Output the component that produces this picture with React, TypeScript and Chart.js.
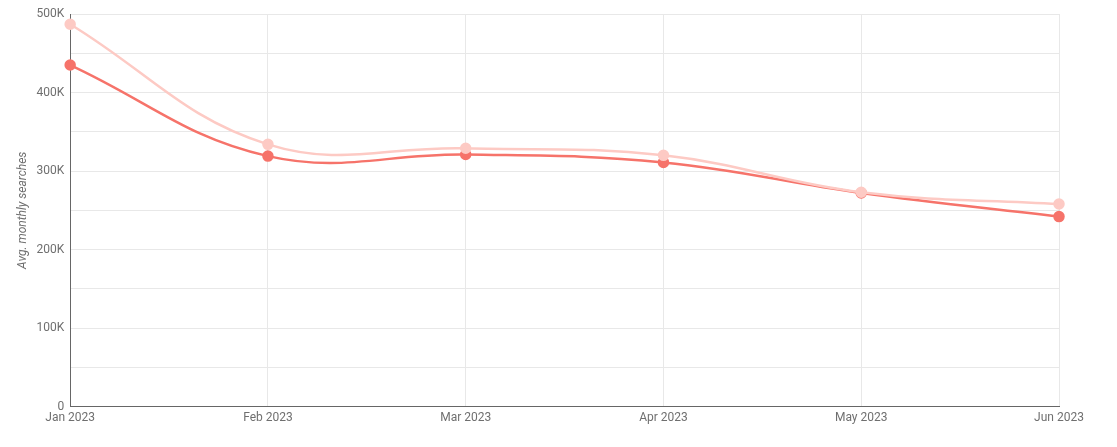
import React, { useEffect, useRef } from "react";
import { Chart, registerables } from "chart.js";

Chart.register(...registerables);

const months = ["Jan 2023", "Feb 2023", "Mar 2023", "Apr 2023", "May 2023", "Jun 2023"];
const lightSeries = [487000, 334000, 329000, 320000, 273000, 258000];
const darkSeries = [435000, 319000, 321000, 311000, 272000, 242000];
const yAxisTitle = "Avg. monthly searches";

const formatK = (v: number) => (v === 0 ? "0" : `${v / 1000}K`);

export default function App() {
  const ref = useRef<HTMLCanvasElement | null>(null);

  useEffect(() => {
    if (!ref.current) return;
    const chart = new Chart(ref.current, {
      type: "line",
      data: {
        labels: months,
        datasets: [
          {
            label: "Series B",
            data: lightSeries,
            borderColor: "#fdcac4",
            backgroundColor: "#fdcac4",
            borderWidth: 2.5,
            pointRadius: 4.5,
            pointHoverRadius: 4.5,
            tension: 0.4,
            fill: false,
          },
          {
            label: "Series A",
            data: darkSeries,
            borderColor: "#f6736a",
            backgroundColor: "#f6736a",
            borderWidth: 2.5,
            pointRadius: 4.5,
            pointHoverRadius: 4.5,
            tension: 0.4,
            fill: false,
          },
        ],
      },
      options: {
        animation: false,
        responsive: false,
        maintainAspectRatio: false,
        layout: { padding: { top: 14, right: 58, bottom: 18, left: 16 } },
        plugins: {
          legend: { display: false },
          tooltip: { enabled: false },
        },
        scales: {
          x: {
            offset: false,
            grid: { color: "#e8e8e8", drawTicks: false, lineWidth: 1 },
            border: { color: "#666666", width: 1 },
            ticks: {
              color: "#6f6f6f",
              font: { family: "Roboto", size: 12 },
              padding: 4,
              maxRotation: 0,
              autoSkip: false,
            },
          },
          y: {
            min: 0,
            max: 500000,
            grid: { color: "#e8e8e8", drawTicks: false, lineWidth: 1 },
            border: { color: "#666666", width: 1 },
            title: {
              display: true,
              text: yAxisTitle,
              color: "#6f6f6f",
              font: { family: "Roboto", size: 12, style: "italic" },
              padding: { top: 0, bottom: 0 },
            },
            ticks: {
              stepSize: 50000,
              color: "#6f6f6f",
              font: { family: "Roboto", size: 12 },
              padding: 6,
              callback: (v: any) => (Number(v) % 100000 === 0 ? formatK(Number(v)) : ""),
            },
          },
        },
      },
    });
    return () => chart.destroy();
  }, []);

  return (
    <div style={{ position: "fixed", left: 0, top: 0, width: 1117, height: 447, background: "#fff" }}>
      <canvas ref={ref} width={1117} height={447} style={{ width: 1117, height: 447 }} />
    </div>
  );
}
